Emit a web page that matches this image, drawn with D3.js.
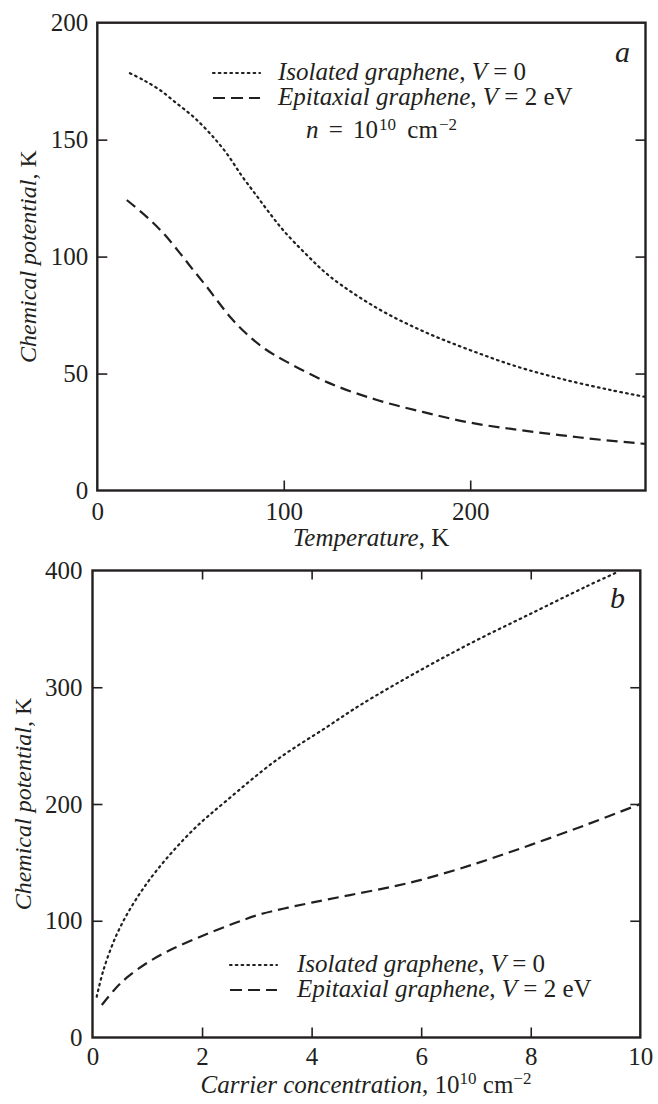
<!DOCTYPE html>
<html><head><meta charset="utf-8">
<script src="https://cdn.jsdelivr.net/npm/d3@7"></script>
<style>
body{margin:0;background:#fff}
svg text{font-family:"Liberation Serif","Times New Roman",serif;fill:#231f20}
</style>
</head><body>
<svg id="c" width="658" height="1104"></svg>
<script>
// ---- Panel a: chemical potential vs temperature (n = 1e10 cm^-2)
const tempIso = [17.5, 24.7, 33.6, 42.6, 51.5, 60.4, 69.4, 77.5, 85, 92, 100, 112, 124.8, 150, 175, 200, 225, 250, 275, 294];
const muTempIso = [178.4, 175.5, 171.2, 165.5, 159.8, 152.7, 144.1, 134.5, 126.5, 119, 111, 101, 91.5, 78, 68, 60, 53, 47.5, 43, 40];
const tempEpi = [15.8, 26.5, 35.4, 44.4, 51.5, 58.7, 65, 72, 80, 90, 101.6, 124.8, 150, 175, 200, 225, 248, 270, 294];
const muTempEpi = [124.2, 117, 110, 101.4, 94.2, 87.1, 80.5, 73.5, 67, 60.5, 55, 45.8, 38.7, 33.5, 29, 26, 23.7, 21.7, 19.9];
const tempTicks = [0, 100, 200];
const muTicksA = [0, 50, 100, 150, 200];

// ---- Panel b: chemical potential vs carrier concentration
const concIso = [0.077, 0.2, 0.44, 0.75, 1.17, 1.84, 2.45, 3.36, 4.28, 4.89, 6, 7, 8, 9, 9.6];
const muConcIso = [35, 57.8, 88, 115, 143, 178, 203, 237.7, 266, 284.8, 315, 340, 363, 386, 399];
const concEpi = [0.17, 0.4, 0.62, 1.0, 1.4, 2.0, 2.6, 3.06, 3.5, 4.0, 4.7, 5.5, 6, 7, 8, 9, 10];
const muConcEpi = [27.8, 41, 51, 64, 74.5, 87, 98, 105.5, 110.5, 115.5, 122, 129.5, 135, 149, 165, 182, 200];
const concTicks = [0, 2, 4, 6, 8, 10];
const muTicksB = [0, 100, 200, 300, 400];

const INK = "#231f20";
const svg = d3.select("#c");

function panel(o) {
  const g = svg.append("g");
  const x = d3.scaleLinear().domain(o.xd).range([o.left, o.right]);
  const y = d3.scaleLinear().domain(o.yd).range([o.bottom, o.top]);

  const fs = 25;
  const ax = g.append("g").attr("transform", `translate(${o.left},0)`)
    .call(d3.axisLeft(y).tickValues(o.yt).tickSize(-10).tickSizeOuter(0).tickPadding(o.ypad).tickFormat(d3.format("d")));
  const bx = g.append("g").attr("transform", `translate(0,${o.bottom})`)
    .call(d3.axisBottom(x).tickValues(o.xt).tickSize(-10).tickSizeOuter(0).tickPadding(o.xpad).tickFormat(d3.format("d")));
  g.append("g").attr("transform", `translate(${o.right},0)`)
    .call(d3.axisRight(y).tickValues(o.yt.slice(1, -1)).tickSize(-10).tickSizeOuter(0).tickFormat(""));
  if (o.topTicks) {
    g.append("g").attr("transform", `translate(0,${o.top})`)
      .call(d3.axisTop(x).tickValues(o.xt.slice(1, -1)).tickSize(-9).tickSizeOuter(0).tickFormat(""));
  }
  g.selectAll(".domain").remove();
  g.selectAll(".tick line").attr("stroke", INK).attr("stroke-width", 1.6);
  g.selectAll(".tick text").attr("font-size", fs).attr("fill", INK)
    .attr("font-family", "'Liberation Serif','Times New Roman',serif");
  ax.selectAll(".tick").filter(d => d === o.yd[0] || d === o.yd[1]).select("line").remove();
  bx.selectAll(".tick").filter(d => d === o.xd[0] || d === o.xd[1]).select("line").remove();

  g.append("rect").attr("x", o.left).attr("y", o.top)
    .attr("width", o.right - o.left).attr("height", o.bottom - o.top)
    .attr("fill", "none").attr("stroke", INK).attr("stroke-width", 2.4);

  const line = d3.line().x(d => x(d[0])).y(d => y(d[1])).curve(d3.curveCatmullRom.alpha(0.5));
  g.append("path").datum(d3.zip(o.isoX, o.isoY)).attr("d", line)
    .attr("fill", "none").attr("stroke", INK).attr("stroke-width", 2.2)
    .attr("stroke-dasharray", "1.6,4.2").attr("stroke-linecap", "round");
  g.append("path").datum(d3.zip(o.epiX, o.epiY)).attr("d", line)
    .attr("fill", "none").attr("stroke", INK).attr("stroke-width", 2.2)
    .attr("stroke-dasharray", "11,6");

  const L = o.legend;
  g.append("line").attr("x1", L.x0).attr("x2", L.x1).attr("y1", L.y - 7).attr("y2", L.y - 7)
    .attr("stroke", INK).attr("stroke-width", 2.2).attr("stroke-dasharray", "1.6,4.2").attr("stroke-linecap", "round");
  g.append("line").attr("x1", L.x0).attr("x2", L.x1).attr("y1", L.y + L.dy - 7).attr("y2", L.y + L.dy - 7)
    .attr("stroke", INK).attr("stroke-width", 2.2).attr("stroke-dasharray", "12,6");
  const t1 = g.append("text").attr("x", L.tx).attr("y", L.y).attr("font-size", 25);
  t1.append("tspan").attr("font-style", "italic").text("Isolated graphene");
  t1.append("tspan").text(", ");
  t1.append("tspan").attr("font-style", "italic").text("V");
  t1.append("tspan").text(" = 0");
  const t2 = g.append("text").attr("x", L.tx).attr("y", L.y + L.dy).attr("font-size", 25);
  t2.append("tspan").attr("font-style", "italic").text("Epitaxial graphene");
  t2.append("tspan").text(", ");
  t2.append("tspan").attr("font-style", "italic").text("V");
  t2.append("tspan").text(" = 2 eV");

  g.append("text").attr("x", o.letter[0]).attr("y", o.letter[1]).attr("font-size", 30)
    .attr("font-style", "italic").text(o.letterText);

  const yt = g.append("text").attr("transform", `translate(${o.ytx},${(o.top + o.bottom) / 2}) rotate(-90)`)
    .attr("text-anchor", "middle").attr("font-size", 24);
  yt.append("tspan").attr("font-style", "italic").text("Chemical potential");
  yt.append("tspan").text(", K");
  return {g, x, y};
}

const A = panel({
  xd: [0, 294], yd: [0, 200], left: 97.3, right: 645.5, top: 22.7, bottom: 490.5,
  xt: tempTicks, yt: muTicksA, ypad: 9, xpad: 12, topTicks: false,
  isoX: tempIso, isoY: muTempIso, epiX: tempEpi, epiY: muTempEpi,
  legend: {x0: 213, x1: 260, y: 80, dy: 25, tx: 278},
  letter: [615, 62], letterText: "a", ytx: 36
});
const xtA = A.g.append("text").attr("x", 371).attr("y", 546).attr("text-anchor", "middle").attr("font-size", 25);
xtA.append("tspan").attr("font-style", "italic").text("Temperature");
xtA.append("tspan").text(", K");
const nt = A.g.append("text").attr("x", 306).attr("y", 138).attr("font-size", 25);
nt.append("tspan").attr("font-style", "italic").text("n");
nt.append("tspan").attr("dx", 4).text(" = ");
nt.append("tspan").attr("dx", 4).text("10");
nt.append("tspan").attr("font-size", 17).attr("dy", -8).attr("dx", 1).text("10");
nt.append("tspan").attr("dy", 8).attr("dx", 5).text(" cm");
nt.append("tspan").attr("font-size", 17).attr("dy", -8).attr("dx", 1).text("\u22122");

const B = panel({
  xd: [0, 10], yd: [0, 400], left: 92.5, right: 640.3, top: 570.5, bottom: 1037.5,
  xt: concTicks, yt: muTicksB, ypad: 10, xpad: 10, topTicks: true,
  isoX: concIso, isoY: muConcIso, epiX: concEpi, epiY: muConcEpi,
  legend: {x0: 230, x1: 277, y: 972, dy: 25, tx: 297},
  letter: [610, 608], letterText: "b", ytx: 31
});
const xtB = B.g.append("text").attr("x", 366).attr("y", 1093).attr("text-anchor", "middle").attr("font-size", 25);
xtB.append("tspan").attr("font-style", "italic").text("Carrier concentration");
xtB.append("tspan").text(", 10");
xtB.append("tspan").attr("font-size", 17).attr("dy", -9).text("10");
xtB.append("tspan").attr("dy", 9).text(" cm");
xtB.append("tspan").attr("font-size", 17).attr("dy", -9).text("\u22122");
</script>
</body></html>
